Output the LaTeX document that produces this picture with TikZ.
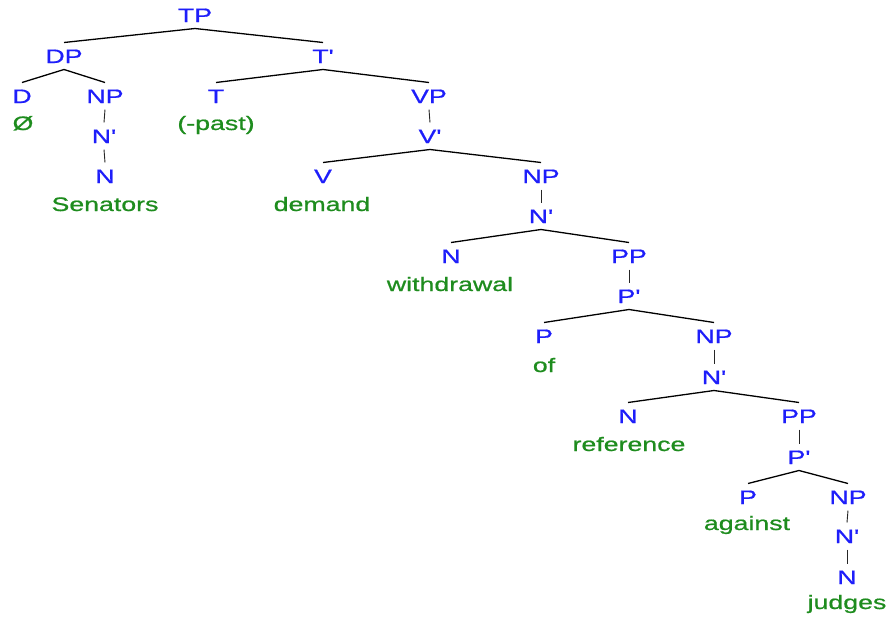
\documentclass[tikz,border=0pt]{standalone}
\usepackage{fontspec}
\setmainfont{Liberation Sans}[FakeStretch=1.37, FakeBold=0.8, Ligatures=TeXOff]
\definecolor{catblue}{RGB}{30,30,250}
\definecolor{wordgreen}{RGB}{30,140,30}
\tikzset{
  lbl/.style={inner xsep=0pt, inner ysep=6.5pt, outer sep=0pt, text height=14pt, text depth=0pt, font=\fontsize{19.5}{20}\selectfont},
  cat/.style={lbl, text=catblue},
  word/.style={lbl, text=wordgreen},
  branch/.style={draw=black, line width=1.3pt},
  unary/.style={draw=black!85, line width=0.9pt}
}
\begin{document}
\begin{tikzpicture}[x=1pt,y=-1pt]
\useasboundingbox (0,0) rectangle (889,616);
% categories
\node[cat] (tp) at (195,15) {TP};
\node[cat] (dp) at (64,56) {DP};
\node[cat] (tb) at (323,56) {T'};
\node[cat] (d) at (22,96) {D};
\node[cat] (np1) at (105,96) {NP};
\node[cat] (t) at (216,96) {T};
\node[cat] (vp) at (429,96) {VP};
\node[cat] (n1b) at (104,136) {N'};
\node[cat] (vb) at (430,136) {V'};
\node[cat] (n1) at (105,176) {N};
\node[cat] (v) at (323,176) {V};
\node[cat] (np2) at (541,176) {NP};
\node[cat] (n2b) at (541,216) {N'};
\node[cat] (n2) at (451,256) {N};
\node[cat] (pp1) at (629,256) {PP};
\node[cat] (p1b) at (629,296) {P'};
\node[cat] (p1) at (544,336) {P};
\node[cat] (np3) at (714,336) {NP};
\node[cat] (n3b) at (714,377) {N'};
\node[cat] (n3) at (628,416) {N};
\node[cat] (pp2) at (799,416) {PP};
\node[cat] (p2b) at (799,457) {P'};
\node[cat] (p2) at (748,497) {P};
\node[cat] (np4) at (848,497) {NP};
\node[cat] (n4b) at (847,536) {N'};
\node[cat] (n4) at (847,577) {N};
% words
\node[word] (w0) at (23,123) {Ø};
\node[word] (past) at (216,123) {(-past)};
\node[word] (senators) at (105,204) {Senators};
\node[word] (demand) at (322,204) {demand};
\node[word] (withdrawal) at (450,284) {withdrawal};
\node[word] (of) at (544,365) {of};
\node[word] (reference) at (629,444) {reference};
\node[word] (against) at (747,523) {against};
\node[word] (judges) at (847,602) {judges};
% branches
\draw[branch] (dp.north) -- (tp.south) -- (tb.north);
\draw[branch] (d.north) -- (dp.south) -- (np1.north);
\draw[branch] (t.north) -- (tb.south) -- (vp.north);
\draw[branch] (v.north) -- (vb.south) -- (np2.north);
\draw[branch] (n2.north) -- (n2b.south) -- (pp1.north);
\draw[branch] (p1.north) -- (p1b.south) -- (np3.north);
\draw[branch] (n3.north) -- (n3b.south) -- (pp2.north);
\draw[branch] (p2.north) -- (p2b.south) -- (np4.north);
% unary
\draw[unary] (np1.south) -- (n1b.north);
\draw[unary] (n1b.south) -- (n1.north);
\draw[unary] (vp.south) -- (vb.north);
\draw[unary] (np2.south) -- (n2b.north);
\draw[unary] (pp1.south) -- (p1b.north);
\draw[unary] (np3.south) -- (n3b.north);
\draw[unary] (pp2.south) -- (p2b.north);
\draw[unary] (np4.south) -- (n4b.north);
\draw[unary] (n4b.south) -- (n4.north);
\end{tikzpicture}
\end{document}
